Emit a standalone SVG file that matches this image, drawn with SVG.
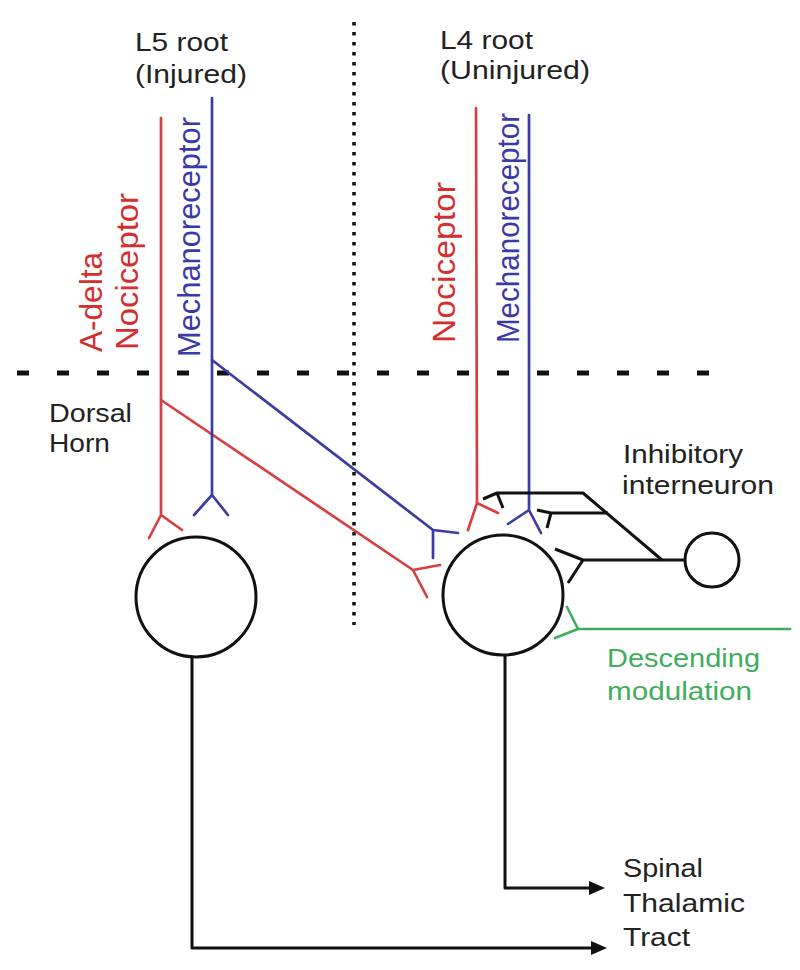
<svg xmlns="http://www.w3.org/2000/svg" width="800" height="970" viewBox="0 0 800 970">
<style>
  text { font-family: "Liberation Sans", Arial, sans-serif; }
  .lbl { font-size: 26px; fill: #222; }
  .vlbl { font-size: 31px; }
  .red { stroke: #d64040; }
  .blue { stroke: #3c3ca2; }
  .blk { stroke: #111; }
  .grn { stroke: #3fae5c; }
  .ln { fill: none; stroke-width: 2.7; stroke-linecap: round; stroke-linejoin: round; }
  .bl { fill: none; stroke: #111; stroke-width: 3; stroke-linejoin: round; }
  .cell { fill: #fff; stroke: #111; stroke-width: 3; }
  .tred { fill: #d42e2e; }
  .tblue { fill: #3a3aa6; }
  .tgrn { fill: #3fae5c; }
</style>
<defs>
  <marker id="arr" viewBox="0 0 16 14" refX="6" refY="7" markerWidth="16" markerHeight="14" orient="auto" markerUnits="userSpaceOnUse">
    <path d="M0,0 L16,7 L0,14 z" fill="#111"/>
  </marker>
</defs>
<rect width="800" height="970" fill="#fff"/>

<!-- boundary lines -->
<g id="boundaries">
  <line x1="17" y1="373" x2="709" y2="373" stroke="#111" stroke-width="5" stroke-dasharray="12 28"/>
  <line x1="354" y1="22" x2="354" y2="625" stroke="#111" stroke-width="3.5" stroke-dasharray="3.5 6.5"/>
</g>

<!-- labels -->
<g id="labels">
  <text class="lbl" x="135" y="51" textLength="93" lengthAdjust="spacingAndGlyphs">L5 root</text>
  <text class="lbl" x="135" y="83" textLength="112" lengthAdjust="spacingAndGlyphs">(Injured)</text>
  <text class="lbl" x="440" y="49" textLength="93" lengthAdjust="spacingAndGlyphs">L4 root</text>
  <text class="lbl" x="440" y="79" textLength="150" lengthAdjust="spacingAndGlyphs">(Uninjured)</text>
  <text class="lbl" x="49" y="422" textLength="83" lengthAdjust="spacingAndGlyphs">Dorsal</text>
  <text class="lbl" x="49" y="452" textLength="61" lengthAdjust="spacingAndGlyphs">Horn</text>
  <text class="lbl" x="623" y="463" textLength="120" lengthAdjust="spacingAndGlyphs" fill="#111">Inhibitory</text>
  <text class="lbl" x="622" y="494" textLength="152" lengthAdjust="spacingAndGlyphs" fill="#111">interneuron</text>
  <text class="lbl tgrn" x="607" y="667" textLength="153" lengthAdjust="spacingAndGlyphs">Descending</text>
  <text class="lbl tgrn" x="607" y="700" textLength="145" lengthAdjust="spacingAndGlyphs">modulation</text>
  <text class="lbl" x="623" y="877" textLength="80" lengthAdjust="spacingAndGlyphs">Spinal</text>
  <text class="lbl" x="623" y="912" textLength="122" lengthAdjust="spacingAndGlyphs">Thalamic</text>
  <text class="lbl" x="623" y="946" textLength="67" lengthAdjust="spacingAndGlyphs">Tract</text>
  <text class="vlbl tred" transform="translate(102,352) rotate(-90)" textLength="100" lengthAdjust="spacingAndGlyphs">A-delta</text>
  <text class="vlbl tred" transform="translate(138,350) rotate(-90)" textLength="157" lengthAdjust="spacingAndGlyphs">Nociceptor</text>
  <text class="vlbl tblue" transform="translate(200,357) rotate(-90)" textLength="240" lengthAdjust="spacingAndGlyphs">Mechanoreceptor</text>
  <text class="vlbl tred" transform="translate(455,343) rotate(-90)" textLength="161" lengthAdjust="spacingAndGlyphs">Nociceptor</text>
  <text class="vlbl tblue" transform="translate(519,343) rotate(-90)" textLength="230" lengthAdjust="spacingAndGlyphs">Mechanoreceptor</text>
</g>

<!-- nodes -->
<g id="node-L5-neuron">
  <circle class="cell" cx="196" cy="597" r="60"/>
</g>
<g id="node-L4-neuron">
  <circle class="cell" cx="503" cy="595" r="60"/>
</g>
<g id="node-inhibitory-interneuron">
  <circle class="cell" cx="712" cy="560" r="27"/>
</g>

<!-- connectors -->
<g id="connectors">
  <!-- L5 A-delta nociceptor -->
  <path class="ln red" d="M161,118 L161,515 M149,538 L161,515 L182,530"/>
  <path class="ln red" d="M161,400 L413,570 M440,565 L413,570 L427,597"/>
  <!-- L5 mechanoreceptor -->
  <path class="ln blue" d="M212,98 L212,495 M194,515 L212,495 L228,515"/>
  <path class="ln blue" d="M212,360 L433,530 M458,533 L433,530 L433,558"/>
  <!-- L4 nociceptor -->
  <path class="ln red" d="M476,108 L477,503 M468,530 L477,503 L498,513"/>
  <!-- L4 mechanoreceptor -->
  <path class="ln blue" d="M529,115 L529,510 M508,524 L529,510 L541,533"/>
  <!-- inhibitory interneuron axon branches -->
  <path class="bl" d="M685,560 L583,560 M555,549 L583,560 L568,583"/>
  <path class="bl" d="M662,560 L583,493 L497,493 M483,499 L497,493 L503,508"/>
  <path class="bl" d="M608,513 L551,513 M537,510 L551,513 L547,528"/>
  <!-- descending modulation -->
  <path class="ln grn" d="M790,629 L578,629 M567,607 L578,629 L555,638"/>
  <!-- projection to spinal thalamic tract -->
  <path class="bl" d="M505,655 L505,888 L595,888" marker-end="url(#arr)"/>
  <path class="bl" d="M192,657 L192,948 L597,948" marker-end="url(#arr)"/>
</g>
</svg>
